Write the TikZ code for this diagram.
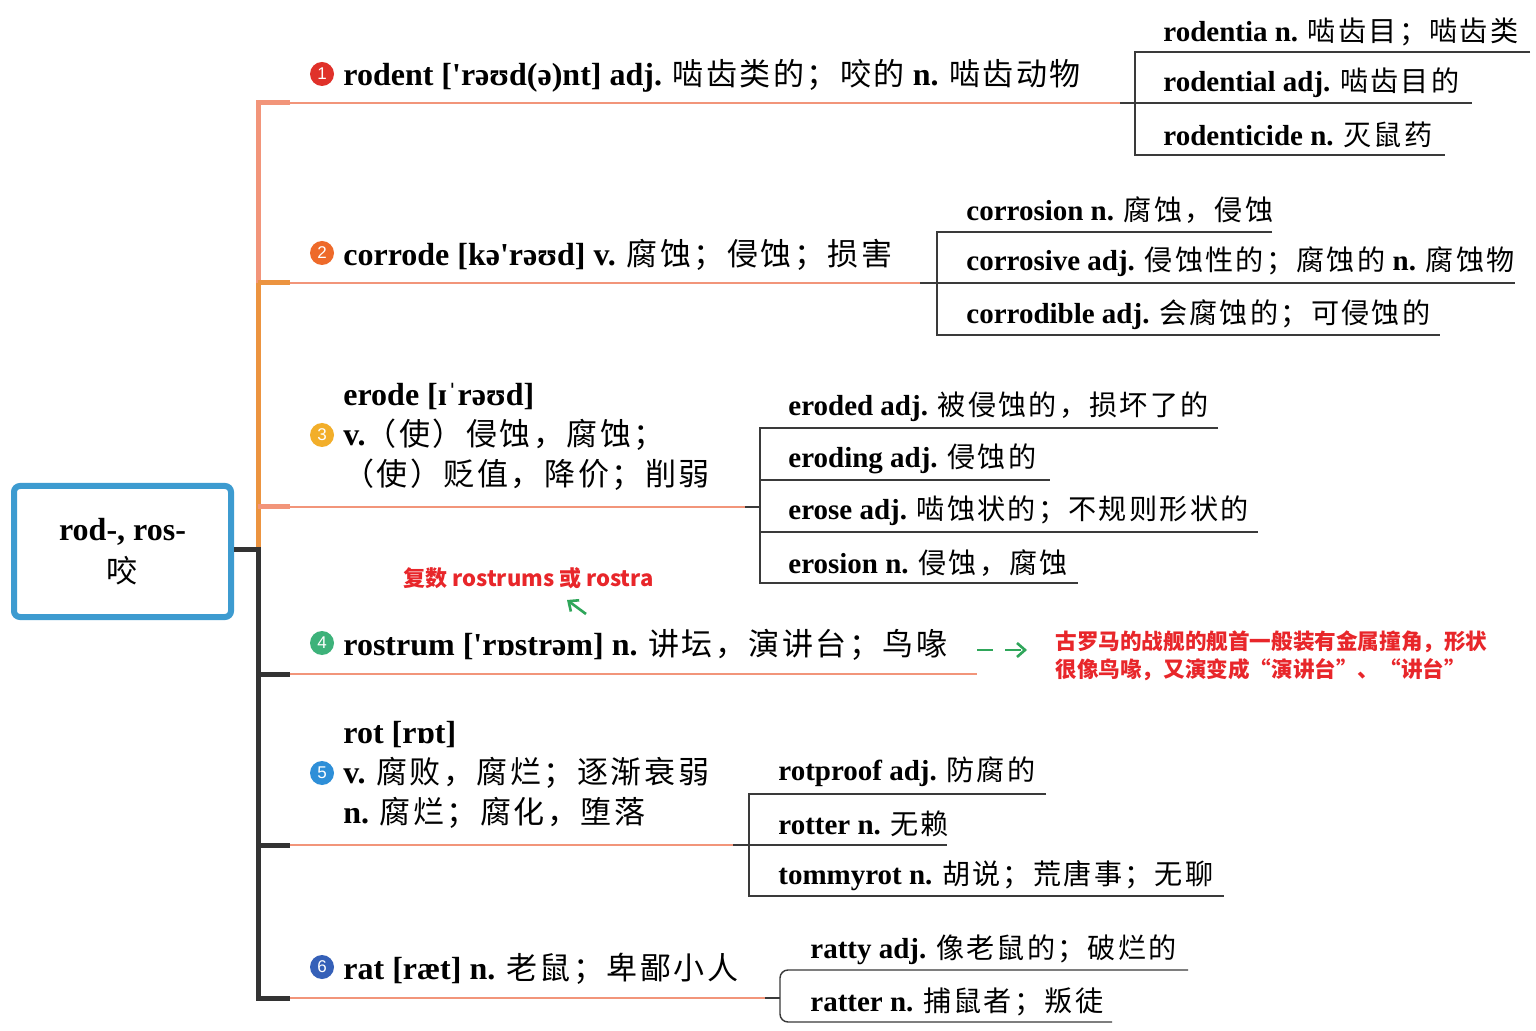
\documentclass[tikz,border=0pt]{standalone}
\usepackage{fontspec}
\setmainfont{Liberation Serif}
\newfontfamily\cjk{Noto Sans CJK SC}[Scale=0.97,LetterSpace=8]
\newfontfamily\cjknote{Noto Sans CJK SC}
\newfontfamily\sanslat{Liberation Sans}
\usetikzlibrary{arrows.meta}
\definecolor{salmon}{HTML}{F2957A}
\definecolor{orng}{HTML}{EC9440}
\definecolor{darkl}{HTML}{333333}
\definecolor{brkc}{HTML}{3A3A3A}
\definecolor{rootblue}{HTML}{3D9BD0}
\definecolor{redtxt}{HTML}{E8262A}
\definecolor{grn}{HTML}{2FA65A}
\definecolor{cA}{HTML}{E0312A}
\definecolor{cB}{HTML}{EE6A2A}
\definecolor{cC}{HTML}{F2AE2A}
\definecolor{cD}{HTML}{3DB27A}
\definecolor{cE}{HTML}{2E8FD8}
\definecolor{cF}{HTML}{3560B8}
\newcommand\zh[1]{{\cjk\mdseries #1}}
\newcommand\ap{\textquotesingle}
\begin{document}
\begin{tikzpicture}[x=0.5pt,y=-0.5pt,
  main/.style={anchor=west,inner sep=0pt,align=left,yshift=-1pt,font=\fontsize{16}{20}\selectfont\bfseries},
  sub/.style={anchor=west,inner sep=0pt,yshift=-1pt,font=\fontsize{14.5}{18}\selectfont\bfseries},
  num/.style={circle,inner sep=0pt,minimum size=12pt,text=white,font=\sanslat\fontsize{8.5}{8.5}\selectfont},
  trunk/.style={line width=2.5pt},
  thin/.style={line width=0.75pt,salmon},
  brk/.style={line width=0.7pt,brkc},
  note/.style={anchor=west,inner sep=0pt,align=left,text=redtxt,font=\cjknote\bfseries\fontsize{10.8}{14}\selectfont},
  garrow/.style={grn,line width=1.3pt,-{Straight Barb[length=4pt,width=7pt]}},
]
\useasboundingbox (0,0) rectangle (1536,1031);
\fill[white] (0,0) rectangle (1536,1031);

% root
\node[draw=rootblue,line width=3pt,rounded corners=3pt,minimum width=108.5pt,minimum height=65.5pt,align=center,
      font=\fontsize{16}{21}\selectfont\bfseries] (root) at (122.5,551.5) {rod-, ros-\\\zh{咬}};

% trunk coordinates
\coordinate (t1) at (258,103);
\coordinate (t2) at (258,283);
\coordinate (t3) at (258,507);
\coordinate (tm) at (258,550);
\coordinate (t4) at (258,674);
\coordinate (t5) at (258,845);
\coordinate (t6) at (258,998);
\coordinate (s1) at (290,103);
\coordinate (s2) at (290,283);
\coordinate (s3) at (290,507);
\coordinate (s4) at (290,674);
\coordinate (s5) at (290,845);
\coordinate (s6) at (290,998);

% trunk
\draw[trunk,salmon] (s1) -- (t1) -- (t2);
\draw[trunk,orng] (t2) -- (tm);
\draw[trunk,darkl] (root.east |- tm) -- (tm) -- (t6) -- (s6);
\draw[trunk,orng] (t2) -- (s2);
\draw[trunk,salmon] (t3) -- (s3);
\draw[trunk,darkl] (t4) -- (s4);
\draw[trunk,darkl] (t5) -- (s5);

% ---------- branch 1
\node[num,fill=cA] (b1) at (322,74) {1};
\node[main] (n1) at (343,74) {rodent [\ap rəʊd(ə)nt] adj. \zh{啮齿类的；咬的} n. \zh{啮齿动物}};
\coordinate (e1) at (1120,103);
\coordinate (k1) at (1135,103);
\draw[thin] (s1) -- (e1);
\draw[brk] (e1) -- (k1);
\draw[brk] (1530,52) -- (1135,52) -- (1135,155) -- (1445,155);
\draw[brk] (k1) -- (1472,103);
\node[sub] (m11) at (1163,30) {rodentia n. \zh{啮齿目；啮齿类}};
\node[sub] (m12) at (1163,81) {rodential adj. \zh{啮齿目的}};
\node[sub] (m13) at (1163,133) {rodenticide n. \zh{灭鼠药}};

% ---------- branch 2
\node[num,fill=cB] (b2) at (322,253) {2};
\node[main] (n2) at (343,253) {corrode [kə\ap rəʊd] v. \zh{腐蚀；侵蚀；损害}};
\coordinate (e2) at (920,283);
\coordinate (k2) at (937,283);
\draw[thin] (s2) -- (e2);
\draw[brk] (e2) -- (k2);
\draw[brk] (1272,232) -- (937,232) -- (937,335) -- (1440,335);
\draw[brk] (k2) -- (1515,283);
\node[sub] (m21) at (966,208) {corrosion n. \zh{腐蚀，侵蚀}};
\node[sub] (m22) at (966,260) {corrosive adj. \zh{侵蚀性的；腐蚀的} n. \zh{腐蚀物}};
\node[sub] (m23) at (966,313) {corrodible adj. \zh{会腐蚀的；可侵蚀的}};

% ---------- branch 3
\node[num,fill=cC] (b3) at (322,435) {3};
\node[main] (n3) at (343,435) {erode [ɪˈrəʊd]\\v.\zh{（使）侵蚀，腐蚀；}\\\zh{（使）贬值，降价；削弱}};
\coordinate (e3) at (745,507);
\coordinate (k3) at (760,507);
\draw[thin] (s3) -- (e3);
\draw[brk] (e3) -- (k3);
\draw[brk] (1218,428) -- (760,428) -- (760,583) -- (1078,583);
\draw[brk] (760,480) -- (1050,480);
\draw[brk] (760,532) -- (1258,532);
\node[sub] (m31) at (788,405) {eroded adj. \zh{被侵蚀的，损坏了的}};
\node[sub] (m32) at (788,457) {eroding adj. \zh{侵蚀的}};
\node[sub] (m33) at (788,509) {erose adj. \zh{啮蚀状的；不规则形状的}};
\node[sub] (m34) at (788,561) {erosion n. \zh{侵蚀，腐蚀}};

% ---------- branch 4
\node[num,fill=cD] (b4) at (322,643) {4};
\node[main] (n4) at (343,643) {rostrum [\ap rɒstrəm] n. \zh{讲坛，演讲台；鸟喙}};
\coordinate (e4) at (977,674);
\draw[thin] (s4) -- (e4);
\node[note,font=\cjknote\bfseries\fontsize{11}{14}\selectfont] (p4) at (403,578) {复数 rostrums 或 rostra};
\node[note] (note4) at (1055,656) {古罗马的战舰的舰首一般装有金属撞角，形状\\很像鸟喙，又演变成“演讲台”、“讲台”};
\coordinate (g1s) at (977,650);
\coordinate (g1e) at (1027,650);
\draw[garrow,dash pattern=on 8pt off 6pt] (g1s) -- (g1e);
\coordinate (g2s) at (586,614);
\coordinate (g2e) at (567,600);
\draw[garrow] (g2s) -- (g2e);

% ---------- branch 5
\node[num,fill=cE] (b5) at (322,773) {5};
\node[main] (n5) at (343,773) {rot [rɒt]\\v. \zh{腐败，腐烂；逐渐衰弱}\\n. \zh{腐烂；腐化，堕落}};
\coordinate (e5) at (733,845);
\coordinate (k5) at (749,845);
\draw[thin] (s5) -- (e5);
\draw[brk] (e5) -- (k5);
\draw[brk] (1046,794) -- (749,794) -- (749,896) -- (1224,896);
\draw[brk] (k5) -- (947,845);
\node[sub] (m51) at (778,770) {rotproof adj. \zh{防腐的}};
\node[sub] (m52) at (778,822) {rotter n. \zh{无赖}};
\node[sub] (m53) at (778,874) {tommyrot n. \zh{胡说；荒唐事；无聊}};

% ---------- branch 6
\node[num,fill=cF] (b6) at (322,967) {6};
\node[main] (n6) at (343,967) {rat [ræt] n. \zh{老鼠；卑鄙小人}};
\coordinate (e6) at (765,998);
\coordinate (k6) at (780,998);
\draw[thin] (s6) -- (e6);
\draw[brk] (e6) -- (k6);
\draw[brk,rounded corners=4pt] (1188,970) -- (780,970) -- (780,1022) -- (1112,1022);
\node[sub] (m61) at (810,948) {ratty adj. \zh{像老鼠的；破烂的}};
\node[sub] (m62) at (810,1000) {ratter n. \zh{捕鼠者；叛徒}};
\end{tikzpicture}
\end{document}
